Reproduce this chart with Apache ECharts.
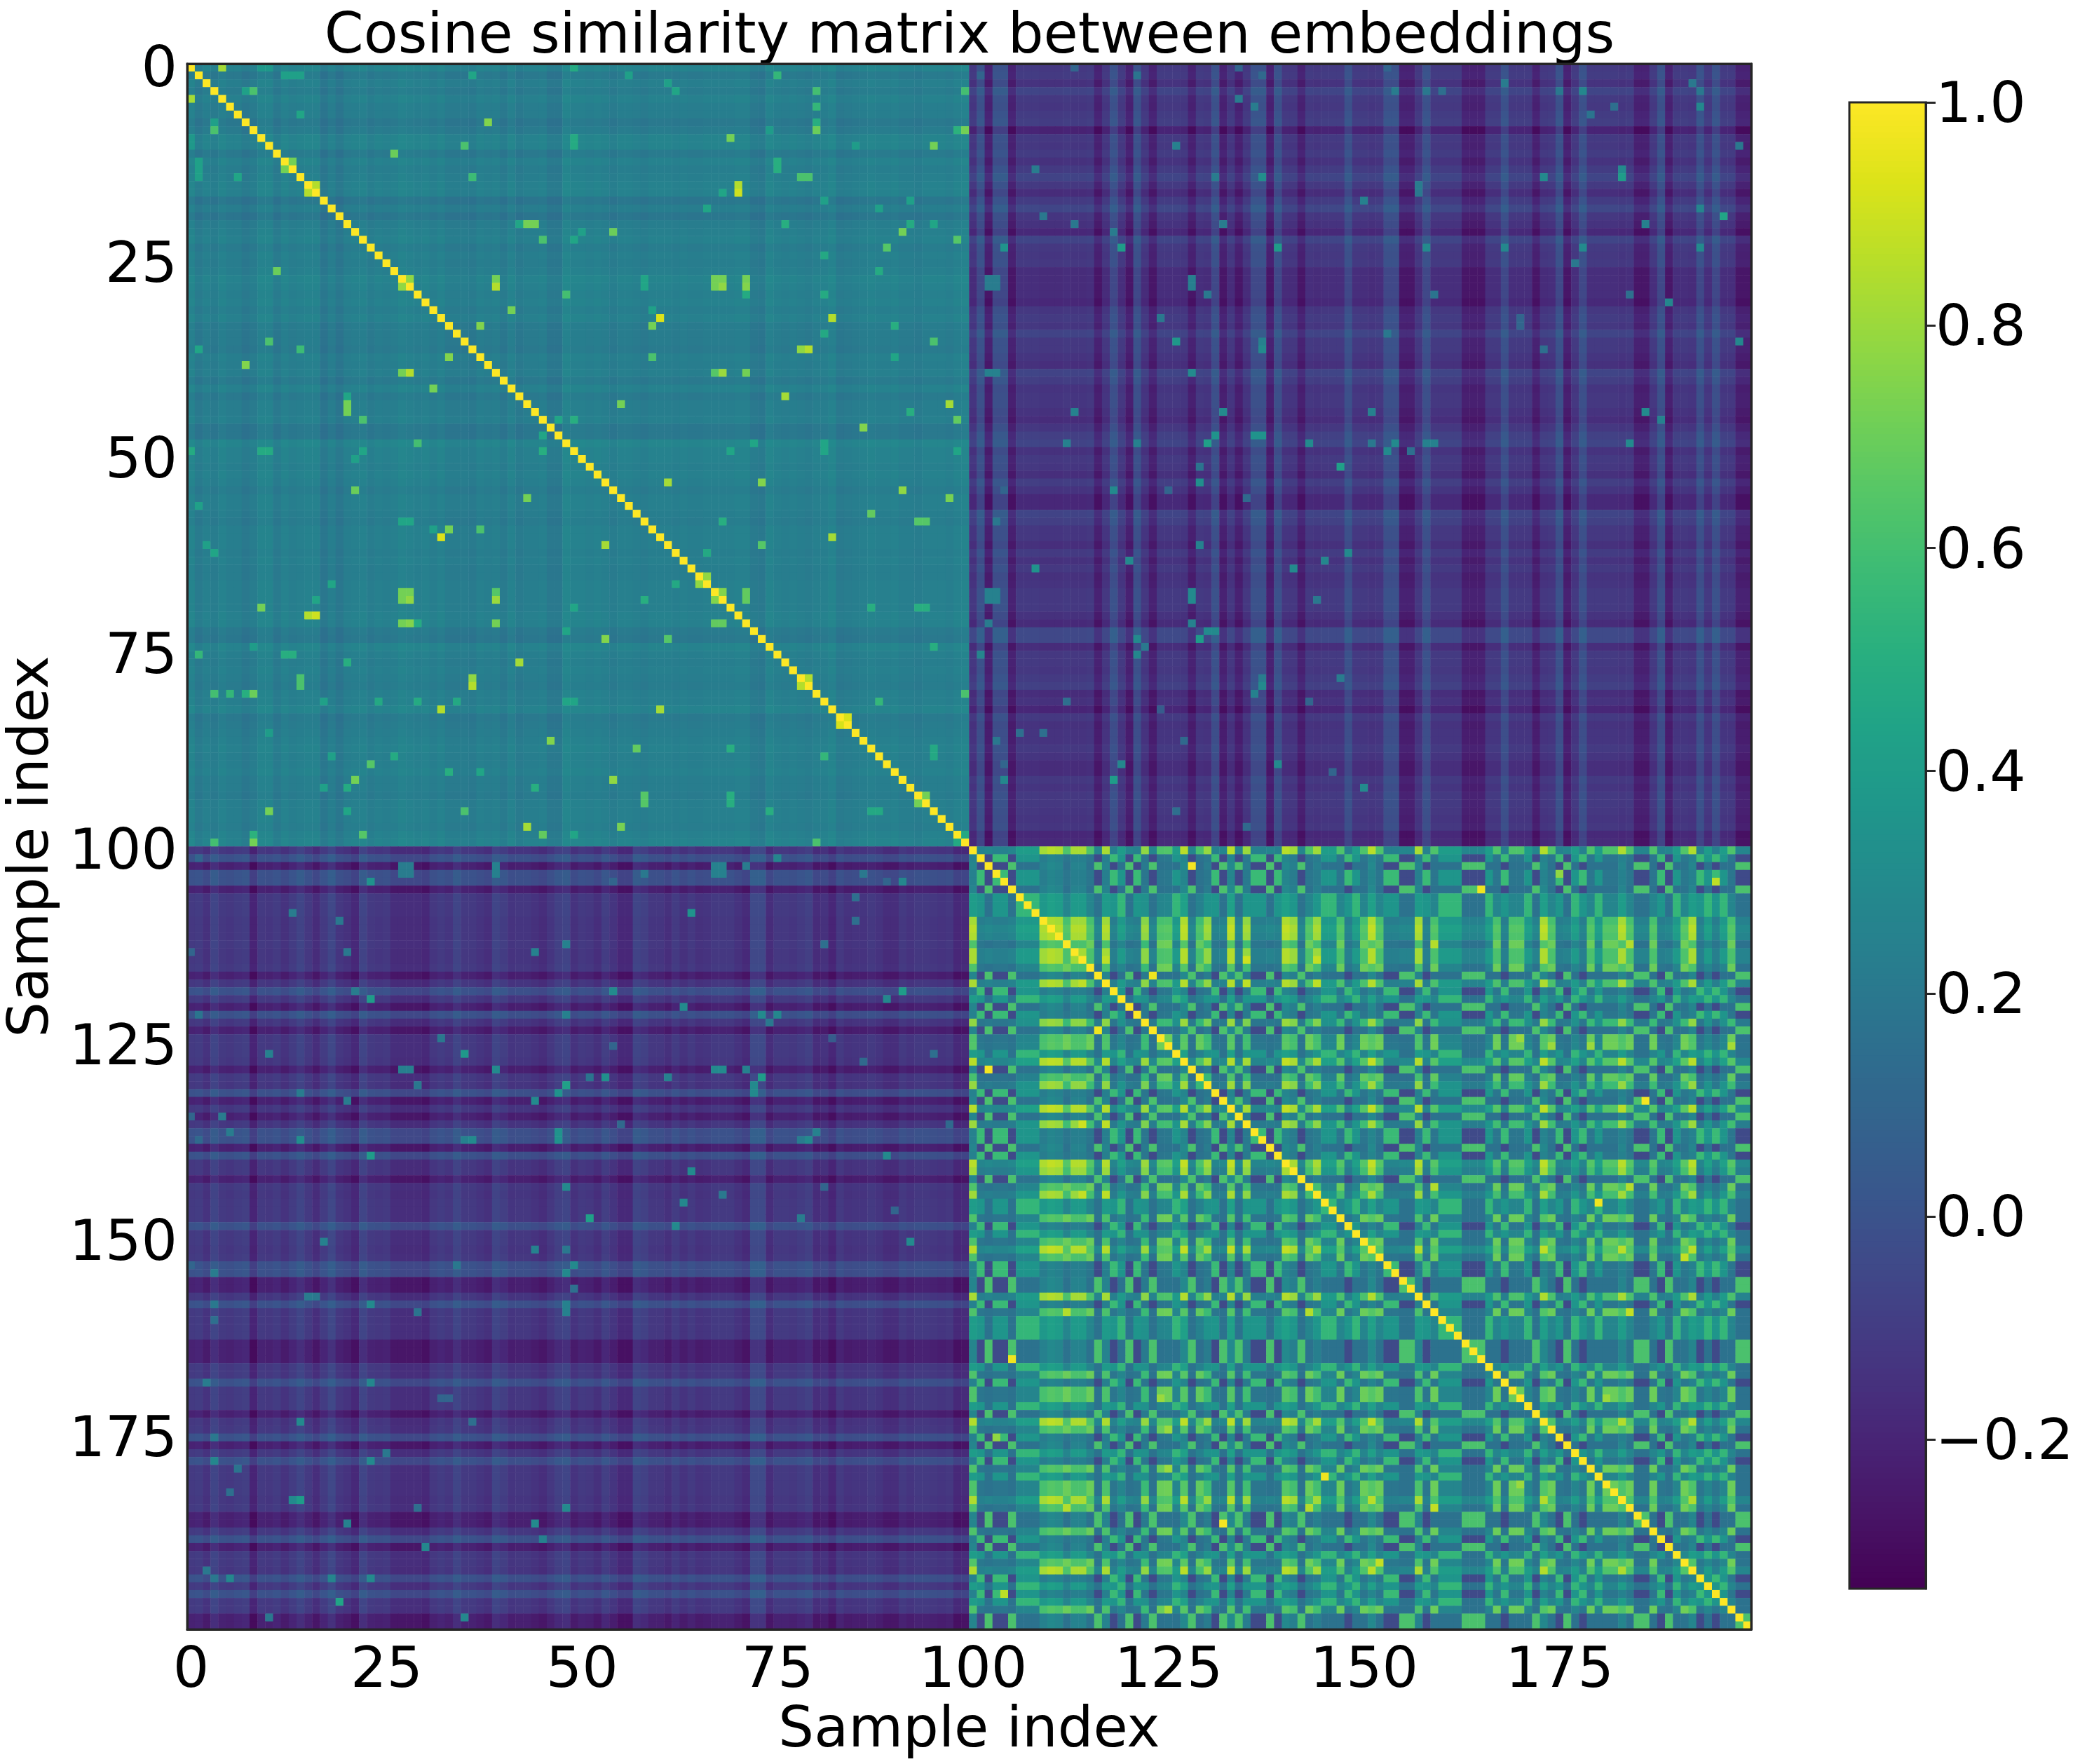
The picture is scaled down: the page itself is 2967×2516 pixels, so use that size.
<!DOCTYPE html>
<html><head><meta charset="utf-8">
<style>html,body{margin:0;padding:0;background:#fff}#c{width:2967px;height:2516px}</style>
<script src="https://cdn.jsdelivr.net/npm/echarts@6/dist/echarts.min.js"></script>
</head><body><div id="c"></div>
<script>
const tickLabels=['0','25','50','75','100','125','150','175'];
const colorbarTicks=[-0.2,0,0.2,0.4,0.6,0.8,1.0];
const viridis=['#440154','#481567','#482677','#453781','#404788','#39568c','#33638d','#2d708e','#287d8e','#238a8d','#1f968b','#20a387','#29af7f','#3cbb75','#55c667','#73d055','#95d840','#b8de29','#dce319','#fde725'];
const vMin=-0.334, vMax=1.0;
// Group label read for samples 100..199 (which samples light up together)
const groups='abcbbcddda'+'aaeaaecabd'+'cbaceedace'+'abcacabbcb'+'aaceaddebd'+'eaebbccabe'+'dddcccdebe'+'edcaebcdbe'+'deeaecceb'+'c'+'deabdbdecc';
// Block levels between groups, read from the lower-right quadrant
const groupLevels={aa:.78,ae:.6,ab:.22,ac:.24,ad:.37,ee:.7,eb:.19,ec:.17,ed:.27,bb:.57,bc:-.04,bd:.36,cc:.62,cd:.17,dd:.55};
// Upper-left quadrant: level and per-sample offset for samples 0..99
const firstLevel=.245;
const firstOffsets=[.02,-.03,0,-.02,.01,-.01,-.01,-.04,-.02,.02,.02,-.03,.01,-.01,0,.01,.01,-.05,-.01,-.05,-.01,0,.01,-.02,0,-.01,0,.02,.01,0,.01,-.01,.01,-.02,-.02,-.02,-.03,0,-.01,0,-.03,.01,-.03,-.01,-.01,0,-.04,-.04,.03,.01,
.01,0,.01,0,-.02,0,0,-.01,-.02,0,0,0,-.01,0,-.01,-.01,0,0,0,0,.01,.01,-.03,-.04,.02,0,-.01,0,-.01,-.02,0,0,.02,-.03,-.02,-.01,0,.01,0,0,.01,-.01,-.01,-.02,0,0,0,-.01,.01,.02];
// Lower-right quadrant: per-sample offset for samples 100..199
const secondOffsets=[.03,0,0,0,0,0,0,0,0,.01,.05,.03,0,.02,.02,0,0,.02,0,0,0,0,-.03,0,0,.01,0,.05,0,-.02,-.02,0,0,.05,0,-.01,0,0,0,0,.05,0,0,0,0,0,0,0,0,0,
0,.05,0,0,0,0,0,.02,0,0,0,0,0,0,0,0,0,0,0,0,0,0,0,.04,0,0,0,0,0,0,0,0,0,.03,0,0,0,0,0,0,0,.01,.03,0,0,0,0,0,0,0];
// Off-diagonal quadrants: level, row offset for samples 0..99, column offset by group
const crossLevel=-.12;
const crossRows=[0,.01,-.03,.05,0,-.01,.01,.02,-.09,0,-.01,.01,-.03,.01,.05,0,-.05,.01,.06,-.01,-.03,-.07,.05,0,-.01,0,-.05,-.05,-.05,-.05,-.07,-.01,.01,-.01,.05,0,0,-.02,-.04,.05,.02,-.02,-.01,-.01,-.03,-.05,-.01,.03,.05,-.03,
0,-.01,-.04,.02,-.02,-.07,-.07,.05,.03,-.01,-.01,-.04,.01,-.03,0,-.03,-.02,0,0,0,-.03,-.06,.07,.07,-.05,0,0,-.01,.01,.03,-.05,-.03,-.08,0,-.03,-.02,-.02,0,-.02,-.05,-.05,0,-.02,0,0,-.01,-.02,-.01,-.07,-.06];
const crossGroups={a:0,e:.01,b:.12,c:-.09,d:.01};
// Individually read cells [row, column, value]
const cellsFirst=[[0,4,.82],[3,8,.62],[3,7,.42],[7,38,.72],[10,35,.65],[11,26,.7],[12,13,.72],[14,36,.6],[15,16,.85],[20,44,.72],[20,42,.45],[22,45,.7],[22,49,.45],[26,11,.7],[27,28,.78],[27,39,.72],[28,39,.85],[29,48,.62],[31,41,.72],[33,37,.75],[35,10,.62],[36,14,.58],[37,33,.75],[38,7,.75],[43,20,.72],[45,22,.62],[48,29,.6],[0,9,.38],[0,10,.38],[1,36,.45],[1,12,.42],[1,13,.42],[1,14,.42],[45,47,.45],[45,49,.5],[0,49,.48],[9,49,.48],[10,49,.48],[6,14,.45],[12,1,.42],[13,1,.42],
[1,56,.42],[1,75,.55],[2,61,.45],[3,62,.42],[3,80,.62],[3,99,.62],[5,80,.5],[7,80,.42],[8,80,.7],[8,99,.7],[8,98,.5],[8,74,.4],[9,69,.72],[10,95,.72],[10,85,.4],[12,75,.5],[13,75,.5],[14,78,.62],[14,79,.62],[15,70,.82],[16,70,.88],[16,68,.45],[17,81,.42],[17,92,.45],[18,66,.45],[18,88,.42],[20,76,.48],[20,92,.48],[20,95,.48],[21,54,.68],[21,91,.72],[21,50,.42],[22,98,.65],[23,89,.62],[24,81,.48],[26,88,.45],[27,67,.72],[27,68,.72],[27,71,.65],[28,67,.72],[28,68,.8],[28,71,.78],[32,60,.92],[32,82,.85],[33,59,.75],[33,90,.5],[34,81,.5],[35,95,.55],[36,78,.78],[36,79,.85],[37,59,.68],[39,67,.75],[39,68,.8],[39,71,.72],[42,76,.82],[43,55,.78],[43,97,.85],[44,92,.45],[45,98,.7],[46,86,.8],[48,72,.47],[48,81,.45],[49,98,.45],[49,69,.45],
[54,21,.7],[55,43,.72],[59,33,.72],[59,37,.62],[59,31,.42],[60,32,.93],[61,2,.42],[62,3,.45],[58,27,.45],[58,28,.45],[66,18,.45],[67,27,.72],[67,28,.72],[67,39,.65],[68,27,.72],[68,28,.78],[68,39,.8],[68,16,.45],[69,9,.72],[70,15,.85],[70,16,.9],[71,27,.72],[71,28,.75],[71,39,.72],[71,29,.48],[72,48,.45],[75,1,.55],[75,12,.5],[75,13,.5],[76,42,.82],[76,20,.5],[78,14,.62],[79,14,.62],[78,36,.78],[79,36,.85],[80,3,.6],[80,5,.55],[80,7,.5],[80,8,.7],[82,32,.85],[81,24,.47],[81,29,.48],[81,34,.47],[81,48,.45],[81,49,.45],[86,46,.75],[88,26,.48],[89,23,.65],[90,33,.5],[90,37,.45],[91,21,.72],[92,44,.5],[92,20,.48],[92,17,.42],[95,10,.72],[95,35,.62],[95,20,.45],[97,43,.82],[98,22,.65],[98,45,.68],[98,8,.52],[99,3,.6],[99,8,.72],
[53,61,.85],[53,73,.75],[54,91,.78],[55,97,.73],[57,87,.68],[58,93,.65],[58,94,.65],[58,68,.5],[60,82,.82],[61,53,.82],[61,73,.68],[62,66,.45],[65,66,.78],[67,71,.68],[68,71,.68],[66,62,.47],[73,61,.65],[78,79,.85],[80,99,.62],[83,84,.92],[87,69,.5],[87,57,.68],[88,81,.55],[93,58,.65],[94,58,.65],[93,69,.5],[94,69,.5],[93,94,.72],[95,74,.5],[95,87,.47],[95,88,.47],[99,80,.62],[98,99,.47],[67,68,.75]];
const cellsCross=[[0,113,.1],[0,134,.1],[1,101,.1],[1,121,.18],[1,137,.12],[4,134,.22],[5,136,.22],[10,126,.25],[13,108,.22],[14,131,.22],[14,137,.32],[19,109,.2],[20,113,.2],[20,132,.22],[21,118,.22],[23,104,.35],[23,119,.4],[23,139,.4],[27,102,.22],[27,103,.22],[28,102,.22],[28,103,.22],[27,128,.24],[28,128,.24],[29,130,.2],[32,124,.2],[35,126,.38],[35,137,.25],[36,137,.3],[39,102,.25],[39,103,.25],[39,128,.3],[44,113,.25],[44,132,.3],[47,131,.35],[47,136,.35],[47,137,.35],[48,130,.42],[48,112,.25],[48,121,.25],[48,143,.3],
[51,147,.42],[51,129,.18],[53,129,.33],[54,104,.1],[54,118,.3],[54,125,.1],[55,135,.12],[58,103,.2],[61,129,.25],[62,148,.3],[63,120,.3],[63,145,.28],[64,108,.35],[64,141,.3],[67,102,.25],[67,103,.25],[67,128,.3],[68,102,.25],[68,103,.25],[68,128,.3],[68,144,.2],[71,102,.22],[71,128,.25],[72,130,.3],[72,131,.3],[73,129,.4],[73,121,.3],[74,122,.2],[75,121,.28],[75,101,.27],[78,137,.22],[78,147,.22],[79,137,.3],[80,136,.25],[81,112,.15],[81,143,.1],[82,124,.05],[85,106,.15],[85,109,.15],[86,103,.2],[86,127,.12],[89,119,.28],[89,139,.3],[89,104,.1],[90,146,.1],[91,104,.28],[91,118,.4],[92,150,.3],[95,126,.15],[97,135,.12],
[0,153,.1],[2,168,.22],[2,192,.2],[3,154,.22],[3,158,.2],[3,160,.15],[3,178,.28],[3,175,.2],[3,193,.2],[5,182,.15],[5,193,.28],[6,179,.18],[10,198,.2],[13,183,.3],[14,183,.4],[14,173,.3],[15,157,.22],[16,157,.2],[17,150,.25],[18,193,.27],[19,196,.45],[20,186,.25],[23,158,.3],[23,168,.28],[23,178,.3],[23,193,.3],[25,177,.2],[29,159,.18],[29,184,.15],[30,189,.28],[32,170,.1],[33,170,.1],[34,153,.2],[35,198,.28],[36,173,.15],[44,151,.25],[44,186,.3],[45,188,.25],[48,151,.2],[48,154,.3],[48,158,.25],[48,159,.25],[48,184,.3],[49,153,.3],[49,156,.15]];
const cellsSecond=[[102,128,.98],[116,123,.97],[114,117,.87],[117,135,.87],[110,127,.87],[133,127,.85],[135,114,.9],[144,114,.88],[144,117,.87],[104,195,.87],[105,165,.97],[103,175,.78],[112,159,.85],[112,184,.85],[124,170,.8],[125,179,.8],[125,174,.8],[125,197,.82],[132,186,.98],[143,159,.85],[143,184,.85],[145,180,.97],[152,191,.88],[159,184,.88],[170,181,.8]];

// Assemble the symmetric matrix from the readings above
const N=200, matrix=[];
function groupOf(i){return groups[i-100]}
function blockLevel(p,q){return groupLevels[p+q]!==undefined?groupLevels[p+q]:groupLevels[q+p]}
for(let i=0;i<N;i++){matrix.push(new Array(N))}
for(let i=0;i<N;i++)for(let j=i;j<N;j++){
  let v;
  if(i===j)v=1;
  else if(j<100)v=firstLevel+firstOffsets[i]+firstOffsets[j];
  else if(i>=100)v=blockLevel(groupOf(i),groupOf(j))+secondOffsets[i-100]+secondOffsets[j-100];
  else v=crossLevel+crossRows[i]+crossGroups[groupOf(j)];
  matrix[i][j]=v;matrix[j][i]=v;
}
[cellsFirst,cellsCross,cellsSecond].forEach(list=>list.forEach(c=>{matrix[c[0]][c[1]]=c[2];matrix[c[1]][c[0]]=c[2]}));
const heatData=[];
for(let y=0;y<N;y++)for(let x=0;x<N;x++)heatData.push([x,y,matrix[y][x]]);
const cats=[...Array(N).keys()].map(String);
const isTick=(i,v)=>tickLabels.includes(String(v));
const barLevels=[];
for(let k=0;k<256;k++)barLevels.push(vMin+(vMax-vMin)*(k+.5)/256);

const font='DejaVu Sans', tickSize=81, titleSize=80, ink='#000', line='#262626';
const chart=echarts.init(document.getElementById('c'),null,{renderer:'canvas'});
const plain={show:false};
const shifted=p=>({a:{padding:[p,0,0,0],fontFamily:font,fontSize:tickSize,color:ink}});
chart.setOption({
  animation:false,backgroundColor:'#fff',
  title:{text:'Cosine similarity matrix between embeddings',left:1378,top:9,textAlign:'center',
    textStyle:{fontFamily:font,fontSize:titleSize,fontWeight:'normal',color:ink}},
  grid:[{left:267,top:91,width:2231,height:2233,show:false,outerBoundsMode:'none'},
        {left:2638,top:146,width:109,height:2120,show:false,outerBoundsMode:'none'}],
  visualMap:[
    {show:false,seriesIndex:0,dimension:2,min:vMin,max:vMax,inRange:{color:viridis}},
    {show:false,seriesIndex:1,dimension:1,min:vMin,max:vMax,inRange:{color:viridis}}],
  xAxis:[
    {type:'category',gridIndex:0,data:cats,position:'bottom',z:5,name:'Sample index',nameLocation:'middle',nameGap:103,
      nameTextStyle:{fontFamily:font,fontSize:titleSize,color:ink},
      axisLine:{onZero:false,lineStyle:{color:line,width:3}},
      axisTick:{alignWithLabel:true,interval:isTick,length:14,lineStyle:{color:line,width:3}},
      axisLabel:{interval:isTick,margin:20,fontFamily:font,fontSize:tickSize,color:ink},splitLine:plain},
    {type:'category',gridIndex:0,data:cats,position:'top',z:5,axisLine:{onZero:false,lineStyle:{color:line,width:3}},axisTick:plain,axisLabel:plain,splitLine:plain},
    {type:'value',gridIndex:1,min:0,max:1,show:false}],
  yAxis:[
    {type:'category',gridIndex:0,data:cats,inverse:true,position:'left',z:5,name:'Sample index',nameLocation:'middle',nameGap:165,nameRotate:90,
      nameTextStyle:{fontFamily:font,fontSize:titleSize,color:ink},
      axisLine:{onZero:false,lineStyle:{color:line,width:3}},
      axisTick:{alignWithLabel:true,interval:isTick,length:14,lineStyle:{color:line,width:3}},
      axisLabel:{interval:isTick,margin:14,formatter:v=>'{a|'+v+'}',rich:shifted(10)},splitLine:plain},
    {type:'category',gridIndex:0,data:cats,inverse:true,position:'right',z:5,axisLine:{onZero:false,lineStyle:{color:line,width:3}},axisTick:plain,axisLabel:plain,splitLine:plain},
    {type:'value',gridIndex:1,min:vMin,max:vMax,position:'right',z:5,
      axisLine:{show:true,onZero:false,lineStyle:{color:line,width:3}},
      axisTick:{show:true,customValues:colorbarTicks,length:14,lineStyle:{color:line,width:3}},
      axisLabel:{show:true,customValues:colorbarTicks,margin:14,rich:shifted(14),
        formatter:v=>'{a|'+(v<0?'\u2212':'')+Math.abs(v).toFixed(1)+'}'},
      splitLine:plain}],
  series:[
    {type:'heatmap',xAxisIndex:0,yAxisIndex:0,data:heatData,silent:true,progressive:0,emphasis:{disabled:true},itemStyle:{borderWidth:0}},
    {type:'custom',xAxisIndex:2,yAxisIndex:2,silent:true,progressive:0,data:barLevels.map(v=>[0,v]),encode:{x:0,y:1},
      renderItem:(p,api)=>{
        const v=api.value(1),st=(vMax-vMin)/256;
        const a=api.coord([0,v+st/2]),b=api.coord([1,v-st/2]);
        return {type:'rect',shape:{x:a[0],y:a[1],width:b[0]-a[0],height:b[1]-a[1]+1},style:{fill:api.visual('color')}};
      }}],
  graphic:[{type:'rect',z:100,silent:true,shape:{x:2638,y:146,width:109,height:2120},style:{fill:'none',stroke:line,lineWidth:3}},
           {type:'rect',z:100,silent:true,shape:{x:267,y:91,width:2231,height:2233},style:{fill:'none',stroke:line,lineWidth:3}}]
});
</script></body></html>
